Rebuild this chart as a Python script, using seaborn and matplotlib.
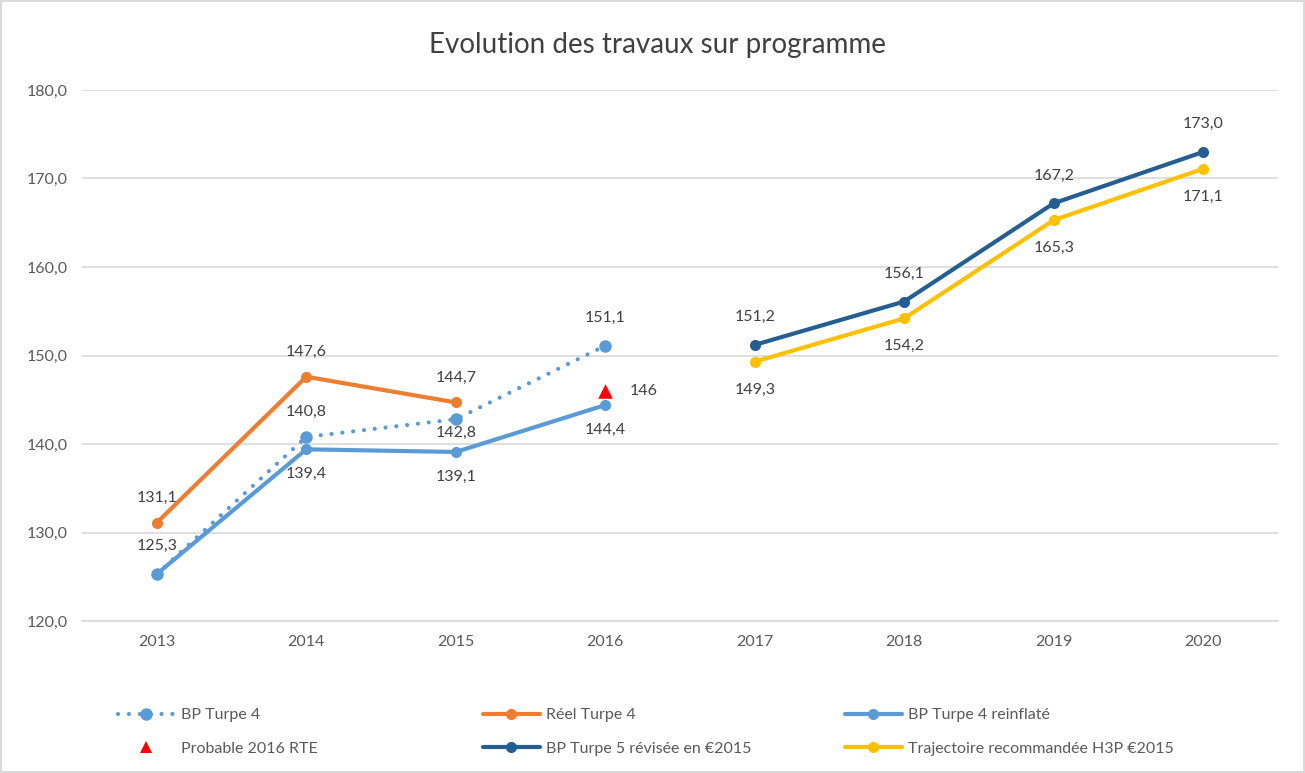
import matplotlib.pyplot as plt
import seaborn as sns
import pandas as pd
from matplotlib.lines import Line2D

sns.set_style("white")
plt.rcParams['font.family'] = ['Lato', 'DejaVu Sans']

# Données
annees = ['2013', '2014', '2015', '2016', '2017', '2018', '2019', '2020']
bp_turpe4 = [125.3, 140.8, 142.8, 151.1]
reel_turpe4 = [131.1, 147.6, 144.7]
bp_turpe4_reinflate = [125.3, 139.4, 139.1, 144.4]
probable_2016 = [146.0]
bp_turpe5 = [151.2, 156.1, 167.2, 173.0]
trajectoire_h3p = [149.3, 154.2, 165.3, 171.1]

bleu = '#5B9BD5'
orange = '#ED7D31'
bleu_fonce = '#255E91'
jaune = '#FFC000'
rouge = '#FF0000'
gris_txt = '#404040'
pointille = (0, (0.01, 2.6))

fig = plt.figure(figsize=(13.05, 7.73), dpi=100)
fig.patch.set_edgecolor('#d9d9d9')
fig.patch.set_linewidth(1.5)
ax = fig.add_axes([0.0628, 0.1966, 0.9165, 0.687])


def serie(valeurs, debut):
    return pd.DataFrame({'x': list(range(debut, debut + len(valeurs))), 'y': valeurs})


def etiquettes(df, dy, dx=0, fmt=lambda v: f"{v:.1f}".replace('.', ',')):
    for x, y in zip(df['x'], df['y']):
        ax.annotate(fmt(y), (x, y), xytext=(dx, dy), textcoords='offset points',
                    ha='center', va='center', fontsize=11.5, color=gris_txt)


d_bp4 = serie(bp_turpe4, 0)
d_reel = serie(reel_turpe4, 0)
d_rein = serie(bp_turpe4_reinflate, 0)
d_bp5 = serie(bp_turpe5, 4)
d_traj = serie(trajectoire_h3p, 4)
d_prob = serie(probable_2016, 3)

sns.lineplot(data=d_reel, x='x', y='y', color=orange, lw=3, marker='o', ms=8,
             markeredgewidth=0, ax=ax)
sns.lineplot(data=d_rein, x='x', y='y', color=bleu, lw=3, marker='o', ms=8,
             markeredgewidth=0, ax=ax)
sns.lineplot(data=d_bp4, x='x', y='y', color=bleu, lw=3, marker='o', ms=9,
             markeredgewidth=0, ax=ax)
# pointillés ronds pour BP Turpe 4
ax.lines[-1].set_linestyle(pointille)
ax.lines[-1].set_dash_capstyle('round')
sns.lineplot(data=d_bp5, x='x', y='y', color=bleu_fonce, lw=3, marker='o', ms=8,
             markeredgewidth=0, ax=ax)
sns.lineplot(data=d_traj, x='x', y='y', color=jaune, lw=3, marker='o', ms=8,
             markeredgewidth=0, ax=ax)
sns.scatterplot(data=d_prob, x='x', y='y', color=rouge, marker='^', s=110,
                linewidth=0, ax=ax, zorder=5)

# Etiquettes de données
etiquettes(d_reel, 18)
ax.annotate('125,3', (0, bp_turpe4[0]), xytext=(0, 20), textcoords='offset points',
            ha='center', va='center', fontsize=11.5, color=gris_txt)
ax.annotate('140,8', (1, bp_turpe4[1]), xytext=(0, 18), textcoords='offset points',
            ha='center', va='center', fontsize=11.5, color=gris_txt)
ax.annotate('142,8', (2, bp_turpe4[2]), xytext=(0, -10), textcoords='offset points',
            ha='center', va='center', fontsize=11.5, color=gris_txt)
ax.annotate('151,1', (3, bp_turpe4[3]), xytext=(0, 20), textcoords='offset points',
            ha='center', va='center', fontsize=11.5, color=gris_txt)
etiquettes(d_rein.iloc[1:], -18)
etiquettes(d_prob, 0, dx=28, fmt=lambda v: f"{v:.0f}")
etiquettes(d_bp5, 20)
etiquettes(d_traj, -20)

ax.set_xlim(-0.5, 7.5)
ax.set_ylim(120, 180)
ax.set_xticks(range(len(annees)))
ax.set_xticklabels(annees)
ax.set_yticks([120, 130, 140, 150, 160, 170, 180])
ax.set_yticklabels([f"{v:.1f}".replace('.', ',') for v in [120, 130, 140, 150, 160, 170, 180]])
ax.tick_params(axis='both', length=0, labelsize=11.5, labelcolor='#595959', pad=10)
ax.set_xlabel('')
ax.set_ylabel('')
ax.grid(True, axis='y', color='#d9d9d9', lw=1.2)
ax.set_axisbelow(True)
for s in ['top', 'right', 'left']:
    ax.spines[s].set_visible(False)
ax.spines['bottom'].set_color('#d9d9d9')
ax.spines['bottom'].set_linewidth(1.2)

fig.text(0.504, 0.942, 'Evolution des travaux sur programme', ha='center', va='center',
         fontsize=20, color='#404040')

# Légende : trois colonnes placées séparément
h_bp4 = Line2D([], [], color=bleu, lw=3, marker='o', ms=9, markeredgewidth=0,
               linestyle=pointille, dash_capstyle='round')
h_reel = Line2D([], [], color=orange, lw=3, marker='o', ms=8, markeredgewidth=0)
h_rein = Line2D([], [], color=bleu, lw=3, marker='o', ms=8, markeredgewidth=0)
h_prob = Line2D([], [], color=rouge, lw=0, marker='^', ms=9, markeredgewidth=0)
h_bp5 = Line2D([], [], color=bleu_fonce, lw=3, marker='o', ms=8, markeredgewidth=0)
h_traj = Line2D([], [], color=jaune, lw=3, marker='o', ms=8, markeredgewidth=0)
colonnes = [
    ([h_bp4, h_prob], ['BP Turpe 4', 'Probable 2016 RTE'], 0.0904),
    ([h_reel, h_bp5], ['Réel Turpe 4', 'BP Turpe 5 révisée en €2015'], 0.370),
    ([h_rein, h_traj], ['BP Turpe 4 reinflaté', 'Trajectoire recommandée H3P €2015'], 0.6475),
]
for hs, lbs, x0 in colonnes:
    fig.legend(hs, lbs, loc='upper left', bbox_to_anchor=(x0, 0.0838), frameon=False,
               fontsize=11.5, labelcolor='#595959', handlelength=3.57, handletextpad=0.37,
               labelspacing=1.2, borderpad=0, borderaxespad=0)

plt.savefig('out.png', dpi=100)
